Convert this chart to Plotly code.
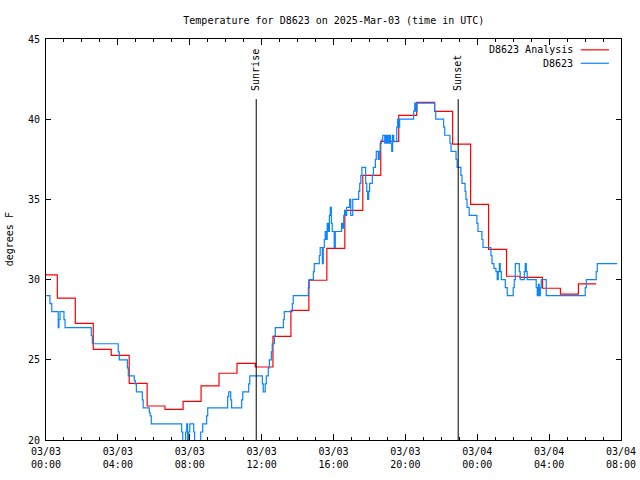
import pandas as pd
import plotly.graph_objects as go

title_text = "Temperature for D8623 on 2025-Mar-03 (time in UTC)"
base_time = "2025-03-03 00:00"

# Analysis (hourly) series: hours after 03/03 00:00 UTC, degrees F
red_hours = [0.00, 0.63, 1.63, 2.63, 3.63, 4.63, 5.63, 6.62, 7.63, 8.63, 9.63,
             10.63, 11.65, 12.63, 13.63, 14.63, 15.63, 16.63, 17.63, 18.63,
             19.63, 20.63, 21.63, 22.63, 23.63, 24.63, 25.63, 26.38, 27.63,
             28.63, 29.63, 30.62]
red_vals = [30.3, 28.85, 27.27, 25.65, 25.28, 23.53, 22.12, 21.91, 22.41, 23.37,
            24.16, 24.78, 24.55, 26.46, 28.08, 29.96, 31.95, 34.32, 36.5, 38.62,
            40.24, 41.05, 40.49, 38.45, 34.69, 31.89, 30.21, 30.14, 29.46, 29.1,
            29.73, 29.73]

# Station observations
blue_hours = [0.00, 0.22, 0.32, 0.68, 0.72, 0.78, 1.00, 1.06, 2.52, 2.58,
              4.02, 4.08, 4.53, 4.58, 4.91, 4.97, 5.03, 5.36, 5.41, 5.75,
              5.80, 5.86, 7.55, 7.61, 7.77, 7.83, 7.88, 7.94, 8.00, 8.22,
              8.27, 8.61, 8.72, 8.94, 9.00, 10.11, 10.17, 10.28, 10.33, 10.89,
              10.95, 11.28, 11.34, 12.04, 12.09, 12.20, 12.26, 12.37, 12.43, 12.54,
              12.59, 12.71, 12.76, 13.21, 13.26, 13.71, 13.76, 14.60, 14.65, 14.88,
              14.93, 15.21, 15.26, 15.38, 15.43, 15.49, 15.54, 15.60, 15.65, 15.71,
              15.77, 15.82, 15.88, 15.93, 16.04, 16.10, 16.45, 16.51, 16.57, 16.62,
              16.68, 16.73, 16.90, 16.96, 17.07, 17.40, 17.46, 17.52, 17.58, 17.79,
              17.85, 17.90, 17.96, 18.01, 18.16, 18.22, 18.33, 18.38, 18.49, 18.55,
              18.60, 18.66, 18.74, 18.85, 18.90, 18.96, 19.01, 19.07, 19.13, 19.18,
              19.24, 19.29, 19.35, 19.52, 19.57, 19.63, 19.68, 20.46, 20.52, 20.57,
              20.65, 21.63, 21.69, 22.13, 22.19, 22.48, 22.54, 22.82, 22.88, 23.09,
              23.15, 23.32, 23.37, 23.43, 23.55, 23.98, 24.04, 24.26, 24.32, 24.76,
              24.82, 24.93, 25.04, 25.11, 25.17, 25.23, 25.28, 25.34, 25.56, 25.67,
              26.00, 26.06, 26.12, 26.34, 26.39, 26.62, 26.67, 26.73, 26.78, 27.28,
              27.34, 27.40, 27.45, 27.51, 27.56, 27.84, 30.01, 30.07, 30.62, 30.68,
              31.79]
blue_vals = [29.0, 28.5, 28.0, 27.0, 27.5, 28.0, 27.5, 27.0, 26.5, 26.0,
             25.5, 25.0, 24.5, 24.0, 23.7, 23.5, 23.0, 22.5, 22.0, 21.7,
             21.5, 21.0, 20.5, 19.5, 20.5, 21.0, 19.5, 20.5, 21.0, 20.5,
             19.5, 20.5, 21.0, 21.5, 22.0, 22.7, 23.0, 22.5, 22.0, 22.5,
             23.0, 23.5, 24.0, 23.5, 23.0, 23.5, 24.0, 24.5, 25.0, 25.5,
             26.0, 26.5, 27.0, 27.5, 28.0, 28.5, 29.0, 29.5, 30.0, 30.5,
             31.0, 31.5, 32.0, 31.0, 32.0, 32.5, 33.0, 32.5, 33.5, 33.0,
             34.0, 34.5, 33.5, 33.0, 32.0, 33.0, 33.5, 33.2, 34.0, 34.3,
             34.0, 34.5, 35.0, 34.0, 35.0, 35.5, 36.0, 36.5, 37.0, 36.0,
             35.5, 35.0, 35.5, 36.0, 36.5, 37.0, 37.5, 38.0, 37.5, 38.0,
             38.5, 38.7, 39.0, 38.5, 39.0, 38.5, 39.0, 38.5, 39.0, 38.5,
             38.0, 39.0, 38.6, 39.5, 40.0, 39.5, 40.0, 40.5, 41.0, 40.5,
             41.0, 40.5, 40.0, 39.5, 39.0, 38.5, 38.0, 37.5, 37.0, 36.5,
             36.0, 35.5, 35.0, 34.5, 34.0, 33.5, 33.0, 32.5, 32.0, 31.5,
             31.0, 30.7, 30.5, 30.0, 30.5, 31.0, 30.5, 30.0, 29.5, 29.0,
             29.5, 30.0, 31.0, 30.5, 30.0, 30.5, 31.0, 30.5, 30.0, 29.5,
             29.0, 29.7, 29.0, 29.5, 30.0, 29.0, 29.5, 30.0, 30.5, 31.0,
             31.0]

sun_hours = [11.70, 22.94]
sun_labels = ["Sunrise", "Sunset"]

tick_hours = [0, 4, 8, 12, 16, 20, 24, 28, 32]
tick_labels = ["03/03<br>00:00", "03/03<br>04:00", "03/03<br>08:00",
               "03/03<br>12:00", "03/03<br>16:00", "03/03<br>20:00",
               "03/04<br>00:00", "03/04<br>04:00", "03/04<br>08:00"]
y_ticks = [20, 25, 30, 35, 40, 45]
y_title = "degrees F"

series_names = ["D8623 Analysis", "D8623"]
series_colors = ["#ff0000", "#0a84ff"]

t0 = pd.Timestamp(base_time)
to_time = lambda hrs: [t0 + pd.Timedelta(hours=h) for h in hrs]

FONT = "DejaVu Sans Mono"
TXT = dict(family=FONT, size=10, color="black")

fig = go.Figure()
fig.add_trace(go.Scatter(x=to_time(red_hours), y=red_vals, mode="lines",
                         line=dict(color=series_colors[0], width=1.2, shape="hv"),
                         name=series_names[0], showlegend=False))
fig.add_trace(go.Scatter(x=to_time(blue_hours), y=blue_vals, mode="lines",
                         line=dict(color=series_colors[1], width=1.2, shape="hv"),
                         name=series_names[1], showlegend=False))

for h, lab in zip(sun_hours, sun_labels):
    ts = t0 + pd.Timedelta(hours=h)
    fig.add_shape(type="line", xref="x", yref="paper", x0=ts, x1=ts, y0=0, y1=0.85,
                  line=dict(color="black", width=1))
    fig.add_annotation(x=ts, xref="x", y=0.866, yref="paper", text=lab,
                       textangle=-90, showarrow=False, yanchor="bottom",
                       xanchor="center", font=TXT)

# gnuplot-style legend (text, then line sample on the right)
for i, (nm, col) in enumerate(zip(series_names, series_colors)):
    yp = 0.973 - i * 0.0335
    fig.add_annotation(x=0.920, xref="paper", y=yp, yref="paper", text=nm,
                       showarrow=False, xanchor="right", yanchor="middle", font=TXT)
    fig.add_shape(type="line", xref="paper", yref="paper", x0=0.930, x1=0.979,
                  y0=yp, y1=yp, line=dict(color=col, width=1.2))

fig.add_annotation(x=-0.063, xref="paper", y=0.5, yref="paper", text=y_title,
                   textangle=-90, showarrow=False, xanchor="center", yanchor="middle",
                   font=TXT)

fig.update_layout(
    width=640, height=480,
    margin=dict(l=46, r=19, t=39, b=40, autoexpand=False),
    paper_bgcolor="white", plot_bgcolor="white",
    font=TXT,
    title=dict(text=title_text, x=0.5216, xanchor="center", xref="container",
               y=1 - 20 / 480, yref="container", yanchor="middle", font=TXT),
    showlegend=False,
)
fig.update_xaxes(
    type="date", automargin=False,
    range=[t0, t0 + pd.Timedelta(hours=32)],
    tickvals=to_time(tick_hours), ticktext=tick_labels,
    ticks="inside", ticklen=6, tickcolor="black", tickwidth=1,
    minor=dict(ticks="inside", ticklen=3, dtick=3600000, tickcolor="black", tickwidth=1),
    showline=True, linecolor="black", linewidth=1, mirror="allticks",
    showgrid=False, zeroline=False,
    tickfont=TXT, ticklabelstandoff=2,
)
fig.update_yaxes(
    automargin=False,
    range=[20, 45], tickvals=y_ticks,
    ticks="inside", ticklen=5, tickcolor="black", tickwidth=1,
    showline=True, linecolor="black", linewidth=1, mirror="allticks",
    showgrid=False, zeroline=False,
    tickfont=TXT, ticklabelstandoff=3,
)

fig.write_html("out.html", config={"displayModeBar": False},
               post_script="document.body.style.margin='0';document.body.style.overflow='hidden';")
